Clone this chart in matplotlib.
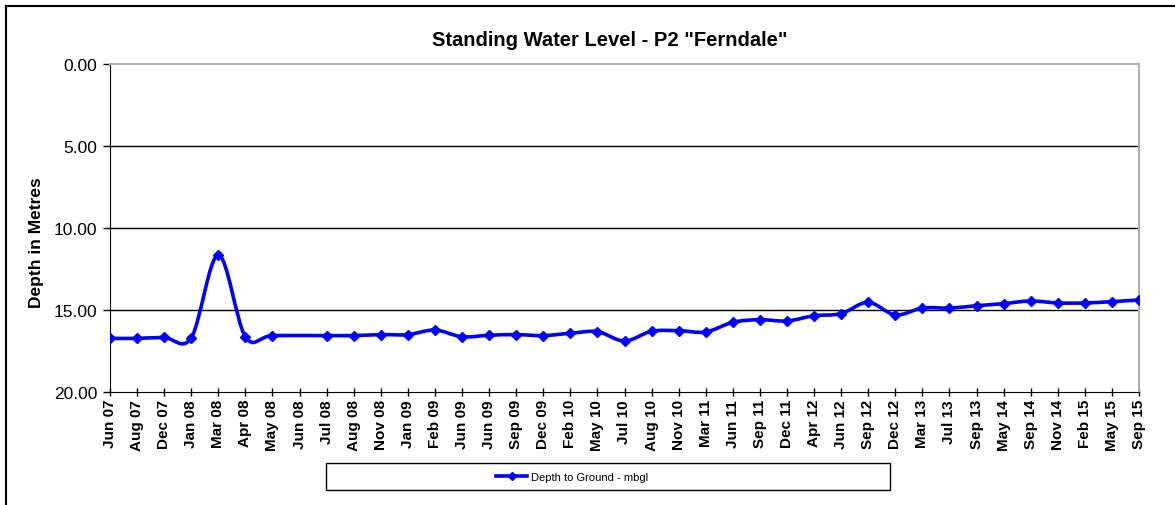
import numpy as np
import matplotlib.pyplot as plt
from matplotlib.path import Path
from matplotlib.patches import PathPatch, Rectangle
from matplotlib.lines import Line2D

plt.rcParams['font.family'] = ['Liberation Sans', 'DejaVu Sans']

# dates of readings (category axis)
dates = ['Jun 07', 'Aug 07', 'Dec 07', 'Jan 08', 'Mar 08', 'Apr 08', 'May 08',
         'Jun 08', 'Jul 08', 'Aug 08', 'Nov 08', 'Jan 09', 'Feb 09', 'Jun 09',
         'Jun 09', 'Sep 09', 'Dec 09', 'Feb 10', 'May 10', 'Jul 10', 'Aug 10',
         'Nov 10', 'Mar 11', 'Jun 11', 'Sep 11', 'Dec 11', 'Apr 12', 'Jun 12',
         'Sep 12', 'Dec 12', 'Mar 13', 'Jul 13', 'Sep 13', 'May 14', 'Sep 14',
         'Nov 14', 'Feb 15', 'May 15', 'Sep 15']

# depth to ground (m), None = no reading
depth = [16.73, 16.73, 16.67, 16.70, 11.65, 16.63, 16.56,
         None, 16.56, 16.56, 16.50, 16.50, 16.22, 16.63,
         16.54, 16.50, 16.56, 16.42, 16.32, 16.89, 16.30,
         16.26, 16.34, 15.75, 15.59, 15.67, 15.35, 15.22,
         14.53, 15.30, 14.88, 14.88, 14.74, 14.61, 14.45,
         14.57, 14.57, 14.49, 14.39]

blue = '#0000FF'
W, H = 1175, 506

fig = plt.figure(figsize=(11.75, 5.06), dpi=100)
ax = fig.add_axes([110 / W, 1 - 393 / H, (1139 - 110) / W, (393 - 65) / H])

xs = np.array([i for i, v in enumerate(depth) if v is not None], dtype=float)
ys = np.array([v for v in depth if v is not None], dtype=float)

# smoothed line like excel (catmull-rom as bezier)
verts = [(xs[0], ys[0])]
codes = [Path.MOVETO]
n = len(xs)
for i in range(n - 1):
    p0 = np.array([xs[max(i - 1, 0)], ys[max(i - 1, 0)]])
    p1 = np.array([xs[i], ys[i]])
    p2 = np.array([xs[i + 1], ys[i + 1]])
    p3 = np.array([xs[min(i + 2, n - 1)], ys[min(i + 2, n - 1)]])
    c1 = p1 + (p2 - p0) / 6
    c2 = p2 - (p3 - p1) / 6
    verts += [tuple(c1), tuple(c2), tuple(p2)]
    codes += [Path.CURVE4] * 3
ax.add_patch(PathPatch(Path(verts, codes), fill=False, edgecolor=blue, lw=2.6, zorder=3))
ax.plot(xs, ys, ls='none', marker='D', ms=5, color=blue, zorder=4)

ax.set_xlim(0, len(dates) - 1)
ax.set_ylim(20, 0)
ax.set_xticks(range(len(dates)))
ax.set_xticklabels(dates, rotation=90, fontweight='bold', fontsize=11)
ax.set_yticks([0, 5, 10, 15, 20])
ax.set_yticklabels(['%.2f' % v for v in [0, 5, 10, 15, 20]], fontsize=12.5)
ax.tick_params(axis='x', direction='inout', length=6, width=1, pad=2)
ax.tick_params(axis='y', direction='out', length=5, width=1, pad=4)
for yv in [5, 10, 15]:
    ax.axhline(yv, color='black', lw=1, zorder=1)
ax.spines['top'].set_color('#b0b0b0')
ax.spines['top'].set_linewidth(1.5)
ax.spines['right'].set_color('#b0b0b0')
ax.spines['right'].set_linewidth(1.5)
ax.spines['left'].set_color('black')
ax.spines['bottom'].set_color('black')

fig.text(37 / W, 1 - 243 / H, 'Depth in Metres', rotation=90, ha='center', va='center',
         fontsize=12.5, fontweight='bold')
fig.text(610 / W, 1 - 40 / H, 'Standing Water Level - P2 "Ferndale"',
         ha='center', va='center', fontsize=14.5, fontweight='bold')

# legend box
fig.add_artist(Rectangle((326 / W, 1 - 491 / H), (890 - 326) / W, 27 / H,
                         transform=fig.transFigure, fill=False, ec='black', lw=1))
handle = Line2D([], [], color=blue, lw=2.6, marker='D', ms=4)
leg = fig.legend([handle], ['Depth to Ground - mbgl'], loc='center',
                 bbox_to_anchor=(572 / W, 1 - 478 / H), fontsize=8, frameon=False,
                 handlelength=2.8, handletextpad=0.3, borderpad=0.2)

# chart outline (top and left only)
fig.add_artist(Line2D([6 / W, 1], [1 - 7 / H, 1 - 7 / H], color='black', lw=1.5))
fig.add_artist(Line2D([6 / W, 6 / W], [0, 1 - 7 / H], color='black', lw=1.5))

fig.savefig('out.png', dpi=100)
